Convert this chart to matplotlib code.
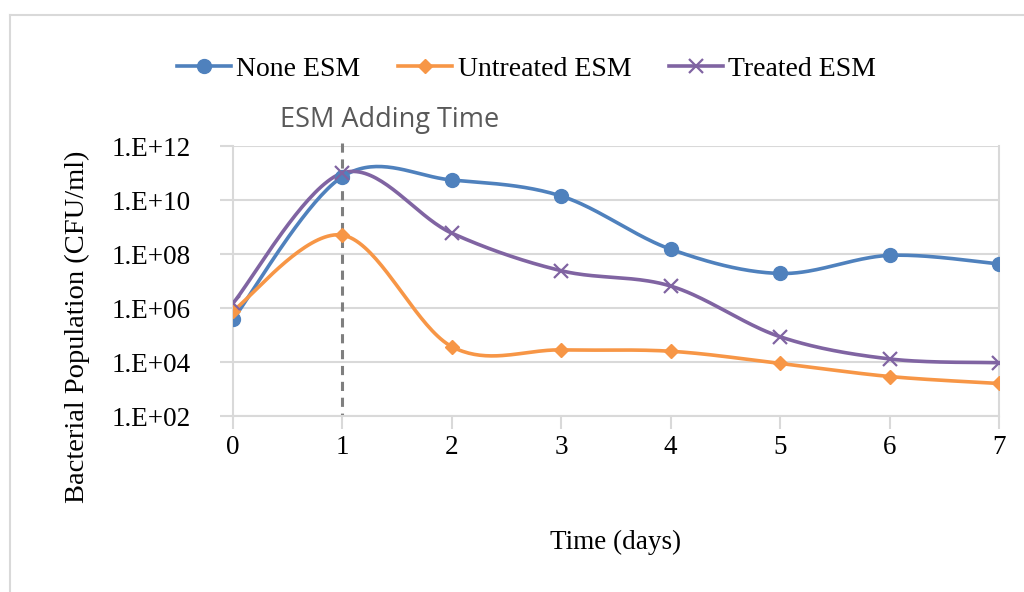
import numpy as np
import matplotlib.pyplot as plt

days = [0, 1, 2, 3, 4, 5, 6, 7]
none_esm = [3.8e5, 7.3e10, 5.5e10, 1.4e10, 1.5e8, 1.9e7, 8.9e7, 4.3e7]
untreated_esm = [7.9e5, 5.0e8, 3.7e4, 2.8e4, 2.5e4, 8.9e3, 2.9e3, 1.6e3]
treated_esm = [1.5e6, 1.0e11, 5.9e8, 2.4e7, 6.5e6, 8.6e4, 1.3e4, 9.4e3]
y_ticks = [1e2, 1e4, 1e6, 1e8, 1e10, 1e12]
y_ticklabels = ['1.E+02', '1.E+04', '1.E+06', '1.E+08', '1.E+10', '1.E+12']
adding_day = 1


def smooth(xs, ys, n=40):
    # catmull-rom through the points, done in log space like excel's smoothed lines
    x = np.array(xs, float)
    y = np.log10(ys)
    px = np.concatenate([[x[0]], x, [x[-1]]])
    py = np.concatenate([[y[0]], y, [y[-1]]])
    out_x, out_y = [], []
    for i in range(1, len(px) - 2):
        t = np.linspace(0, 1, n)
        for arr, out in ((px, out_x), (py, out_y)):
            p0, p1, p2, p3 = arr[i - 1], arr[i], arr[i + 1], arr[i + 2]
            out.extend(0.5 * (2 * p1 + (-p0 + p2) * t
                              + (2 * p0 - 5 * p1 + 4 * p2 - p3) * t ** 2
                              + (-p0 + 3 * p1 - 3 * p2 + p3) * t ** 3))
    return np.array(out_x), 10 ** np.array(out_y)


plt.rcParams['font.family'] = ['Liberation Serif', 'DejaVu Serif']

fig = plt.figure(figsize=(10.24, 5.92), dpi=100)
ax = fig.add_axes([233 / 1024, 1 - 416 / 592, (999 - 233) / 1024, 270 / 592])

grid_c = '#d9d9d9'
series = [
    ('None ESM', none_esm, '#4f81bd', 'o', 10),
    ('Untreated ESM', untreated_esm, '#f79646', 'D', 7.5),
    ('Treated ESM', treated_esm, '#8064a2', 'x', 10),
]
handles = []
for name, vals, col, mk, ms in series:
    sx, sy = smooth(days, vals)
    ax.plot(sx, sy, color=col, lw=2.6, solid_capstyle='round', zorder=3)
    ax.plot(days, vals, ls='none', marker=mk, ms=ms, color=col,
            mec=col, mew=1.6 if mk == 'x' else 1, zorder=4)
    h, = ax.plot([], [], color=col, lw=2.6, marker=mk, ms=ms, mew=1.6 if mk == 'x' else 1)
    handles.append((h, name))

ax.set_yscale('log')
ax.set_xlim(0, 7)
ax.set_ylim(1e2, 1e12)
ax.set_yticks(y_ticks)
ax.set_yticklabels(y_ticklabels)
ax.yaxis.set_minor_locator(plt.NullLocator())
ax.set_xticks(days)
ax.grid(axis='y', color=grid_c, lw=1.5, zorder=0)
ax.spines['top'].set_visible(False)
for s in ['left', 'right', 'bottom']:
    ax.spines[s].set_color(grid_c)
    ax.spines[s].set_linewidth(1.5)
ax.tick_params(axis='y', length=9.5, width=1.5, color=grid_c, labelsize=19.5, pad=21)
ax.tick_params(axis='x', length=9, width=1.5, color=grid_c, labelsize=19.5, pad=5)

ax.plot([adding_day, adding_day], [8e11 * 1.6, 1e2], color='#7f7f7f', lw=2.2,
        ls=(0, (3, 2.2)), clip_on=False, zorder=2)
ax.text(adding_day + 0.43, 10 ** 12.97, 'ESM Adding Time', ha='center', va='center',
        fontsize=19.5, color='#595959', family=['Open Sans', 'DejaVu Sans'])

ax.set_ylabel('Bacterial Population (CFU/ml)', fontsize=20.5)
ax.yaxis.set_label_coords(-143 / 766, 0.33)
ax.set_xlabel('Time (days)', fontsize=19.5, labelpad=50)

fig.legend([h for h, _ in handles], [n for _, n in handles], loc='center',
           bbox_to_anchor=(0.514, 1 - 69 / 592), ncol=3, frameon=False,
           fontsize=20, handlelength=1.95, handletextpad=0.2, columnspacing=1.35)

# chart area border
fig.add_artist(plt.Line2D([10 / 1024, 10 / 1024], [0, 1 - 15 / 592], color=grid_c, lw=1.5))
fig.add_artist(plt.Line2D([10 / 1024, 1], [1 - 15 / 592, 1 - 15 / 592], color=grid_c, lw=1.5))

fig.savefig('out.png', dpi=100)
